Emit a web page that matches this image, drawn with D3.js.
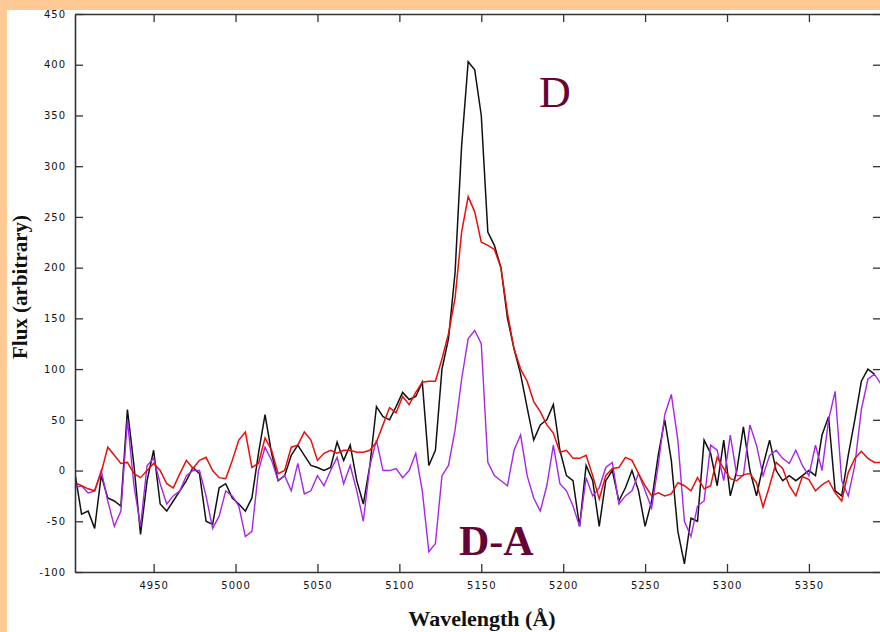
<!DOCTYPE html>
<html><head><meta charset="utf-8">
<script src="https://cdn.jsdelivr.net/npm/d3@7"></script>
<style>body{margin:0;background:#fff}svg{display:block}</style>
</head><body><svg id="c" width="880" height="632"></svg>
<script>
// Wavelength grid (Å), 4 Å bins
const wavelengths = d3.range(4902, 5395, 4);
// Black: spectrum D
const fluxD = [-3,-43,-40,-57,-5,-27,-30,-35,60,5,-63,-10,20,-33,-40,-30,-20,-10,3,-3,-50,-53,-17,-13,-27,-33,-40,-27,17,55,17,-10,
-5,15,25,15,5,3,0,3,28,10,25,-10,-33,5,63,53,50,63,77,70,73,87,5,20,100,130,195,320,403,395,350,235,222,200,150,120,95,62,30,45,50,65,20,
-5,-10,-55,5,-10,-55,-10,0,-30,-17,0,-20,-55,-30,15,50,10,-60,-92,-47,-50,30,17,-15,30,-25,0,43,0,-25,5,30,0,-10,-5,-10,-5,0,-5,35,53,-20,-25,15,50,88,100,95];
// Red: comparison spectrum
const fluxRed = [-12,-15,-18,-20,-2,23,15,7,8,-3,-7,0,7,0,-13,-17,-3,10,2,10,13,0,-7,-8,10,30,38,3,7,32,20,-3,
0,23,25,38,30,10,17,20,17,20,20,18,18,20,28,45,62,57,73,65,77,87,88,88,110,135,170,235,270,255,225,222,218,200,155,120,100,88,68,58,45,37,18,
20,12,12,15,-5,-28,-5,2,3,13,10,-3,-15,-25,-22,-25,-23,-12,-15,-20,-7,-18,-15,13,2,-8,-10,-4,-3,-12,-36,-15,8,2,-15,-25,-6,-9,-20,-14,-10,-22,-30,-2,12,19,12,8,8];
// Purple: difference D-A
const fluxDA = [-17,-15,-22,-20,0,-30,-55,-40,50,-15,-55,5,12,-13,-33,-25,-20,-5,0,0,-25,-57,-45,-20,-25,-35,-65,-60,0,23,10,-10,
-5,-20,7,-23,-20,-5,-15,0,13,-13,5,-20,-50,5,30,0,0,2,-7,0,17,-20,-80,-72,-5,5,40,90,130,138,125,8,-5,-10,-15,20,35,-5,-27,-40,-15,25,-13,
-20,-35,-55,-7,-25,-17,3,8,-33,-25,-20,-3,-20,-37,5,55,75,30,-50,-65,-35,-30,25,20,-10,35,-5,-5,45,25,-5,15,20,12,7,20,5,-5,25,0,50,78,-10,-25,5,60,90,95,85];
const xTicks = [4950,5000,5050,5100,5150,5200,5250,5300,5350];
const yTicks = [-100,-50,0,50,100,150,200,250,300,350,400,450];

const svg = d3.select('#c');
const L=75,R=881,T=14,B=572;
svg.append('rect').attr('width',880).attr('height',632).attr('fill','#fff');

const x = d3.scaleLinear().domain([4902,5394]).range([L,R]);
const y = d3.scaleLinear().domain([-100,450]).range([B,T]);

svg.append('clipPath').attr('id','clip').append('rect').attr('x',L).attr('y',T).attr('width',R-L).attr('height',B-T);

const line = d3.line().x((d,i)=>x(wavelengths[i])).y(d=>y(d)).curve(d3.curveLinear);
const g = svg.append('g').attr('clip-path','url(#clip)');
g.append('path').datum(fluxD).attr('d',line).attr('fill','none').attr('stroke','#111').attr('stroke-width',1.5);
g.append('path').datum(fluxDA).attr('d',line).attr('fill','none').attr('stroke','#a526e8').attr('stroke-width',1.4);
g.append('path').datum(fluxRed).attr('d',line).attr('fill','none').attr('stroke','#e8100c').attr('stroke-width',1.5);

const tickFont = g0 => g0.selectAll('text').style('font-family','DejaVu Sans, sans-serif').attr('font-size',10).attr('letter-spacing','1px').attr('fill','#111');
const styleAxis = g0 => { g0.selectAll('line').attr('stroke','#333').attr('stroke-width',1.3); g0.select('.domain').attr('stroke','#333').attr('stroke-width',1.6); };

svg.append('g').attr('transform',`translate(0,${B})`)
  .call(d3.axisBottom(x).tickValues(xTicks).tickSize(-8).tickSizeOuter(0).tickPadding(10).tickFormat(d3.format('d')))
  .call(styleAxis).call(tickFont);
svg.append('g').attr('transform',`translate(0,${T})`)
  .call(d3.axisTop(x).tickValues(xTicks).tickSize(-8).tickSizeOuter(0).tickFormat(''))
  .call(styleAxis);
svg.append('g').attr('transform',`translate(${L},0)`)
  .call(d3.axisLeft(y).tickValues(yTicks).tickSize(-8).tickSizeOuter(0).tickPadding(9).tickFormat(d=>String(d)))
  .call(styleAxis).call(tickFont);
svg.append('g').attr('transform',`translate(${R},0)`)
  .call(d3.axisRight(y).tickValues(yTicks).tickSize(-8).tickSizeOuter(0).tickFormat(''))
  .call(styleAxis);

svg.append('text').attr('x',482).attr('y',626).attr('text-anchor','middle')
  .attr('font-family','Liberation Serif, serif').attr('font-weight','bold').attr('font-size',22).attr('fill','#111').text('Wavelength (Å)');
svg.append('text').attr('transform','translate(27,287) rotate(-90)').attr('text-anchor','middle')
  .attr('font-family','Liberation Serif, serif').attr('font-weight','bold').attr('font-size',21).attr('fill','#111').text('Flux (arbitrary)');
svg.append('text').attr('x',539).attr('y',107).attr('font-family','Liberation Serif, serif').attr('font-size',44).attr('fill','#650536').text('D');
svg.append('text').attr('x',459).attr('y',555).attr('font-family','Liberation Serif, serif').attr('font-weight','bold').attr('font-size',42).attr('fill','#650536').text('D-A');

// peach frame strips (top and left), drawn over the plot edge like the reference
svg.append('rect').attr('x',0).attr('y',0).attr('width',880).attr('height',10).attr('fill','#ffc995');
svg.append('rect').attr('x',0).attr('y',0).attr('width',7).attr('height',632).attr('fill','#ffc995');
</script></body></html>
